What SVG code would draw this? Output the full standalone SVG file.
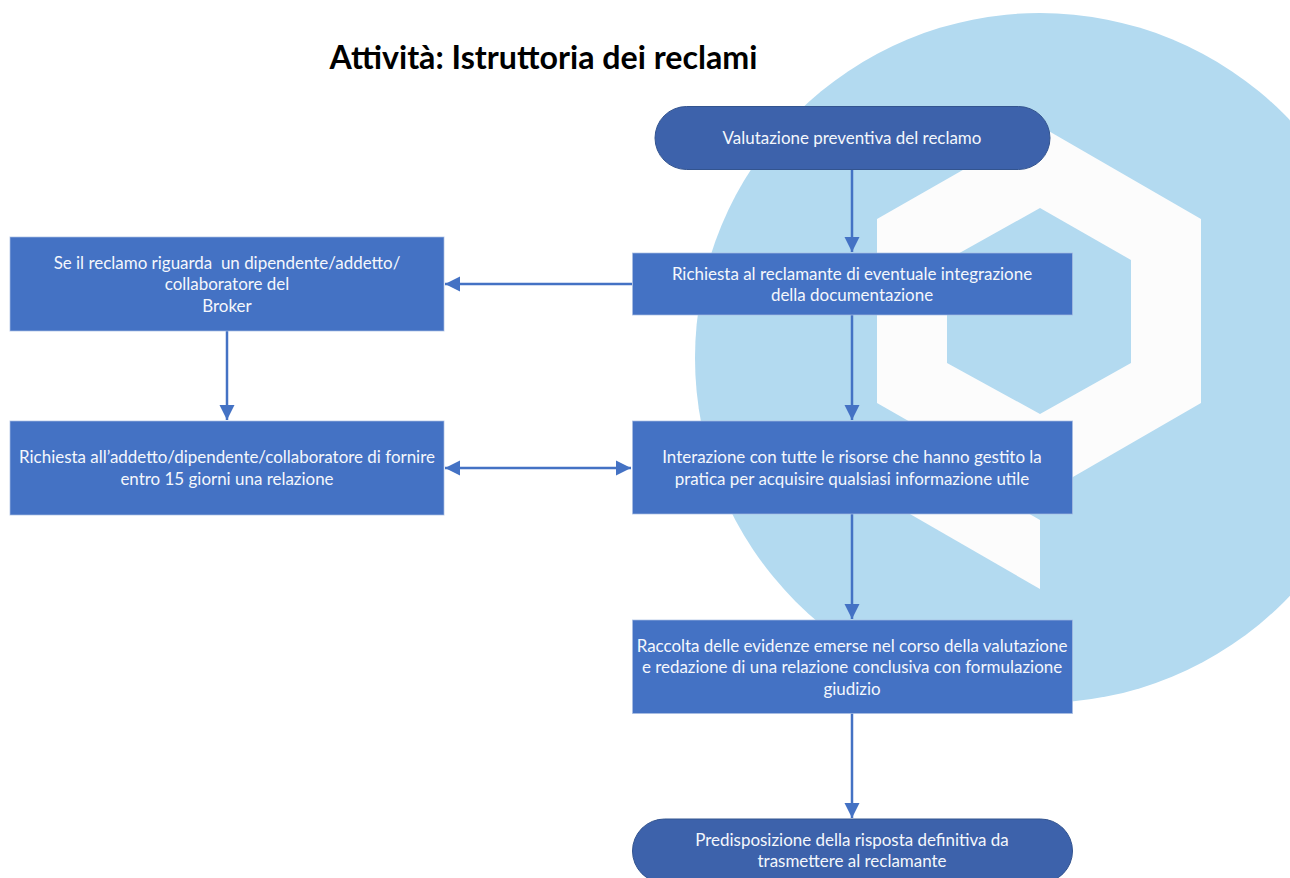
<svg xmlns="http://www.w3.org/2000/svg" width="1290" height="878" viewBox="0 0 1290 878">
<style>
.box{fill:#4472c4;stroke:#a9bde3;stroke-width:1;stroke-opacity:.7}
.pill{fill:#3d62ab;stroke:#33548f;stroke-width:1}
.t{font-family:"Lato","Carlito","Liberation Sans",sans-serif;font-size:16.95px;fill:#f4f7fc;text-anchor:middle;white-space:pre}
.title{font-family:"Lato","Liberation Sans",sans-serif;font-size:32.2px;font-weight:700;fill:#000;text-anchor:middle}
.c{fill:none;stroke:#4472c4;stroke-width:2.5}
.logo{fill:#fcfcfc}
</style>
<defs>
<marker id="a" markerUnits="userSpaceOnUse" markerWidth="16" markerHeight="16" refX="15" refY="8" orient="auto-start-reverse"><path d="M0 0.500L15 8L0 15.500Z" fill="#4472c4"/></marker>
</defs>
<rect width="1290" height="878" fill="#fff"/>
<g id="background">
<circle cx="1040" cy="358" r="345" fill="#b3daf0"/>
<polygon class="logo" fill-rule="evenodd" points="1040,126 1201,219 1201,403 1040,496 877,403 877,219 1040,126 1040,208 947,260 947,363 1040,414 1131,363 1131,260 1040,208"/>
<polygon class="logo" points="877,427 1040,520 1040,589 877,495"/>
</g>
<text class="title" x="543.500" y="69">Attività: Istruttoria dei reclami</text>
<g id="connectors">
<path class="c" d="M852 170V252" marker-end="url(#a)"/>
<path class="c" d="M852 315V420" marker-end="url(#a)"/>
<path class="c" d="M852 514V619" marker-end="url(#a)"/>
<path class="c" d="M852 713V818" marker-end="url(#a)"/>
<path class="c" d="M632 284H445" marker-end="url(#a)"/>
<path class="c" d="M227 331V420" marker-end="url(#a)"/>
<path class="c" d="M445 468H631" marker-start="url(#a)" marker-end="url(#a)"/>
</g>
<g id="n1"><rect class="pill" x="655" y="106.500" width="395" height="63" rx="31.500"/><text class="t" x="852" y="144">Valutazione preventiva del reclamo</text></g>
<g id="n2"><rect class="box" x="632.500" y="253" width="440" height="62"/><text class="t" x="852" y="280">Richiesta al reclamante di eventuale integrazione</text><text class="t" x="852" y="301">della documentazione</text></g>
<g id="n3"><rect class="box" x="10" y="237" width="434" height="94"/><text class="t" x="227" y="269">Se il reclamo riguarda  un dipendente/addetto/</text><text class="t" x="227" y="290">collaboratore del</text><text class="t" x="227" y="312">Broker</text></g>
<g id="n4"><rect class="box" x="10" y="421" width="434" height="94"/><text class="t" x="227" y="463">Richiesta all’addetto/dipendente/collaboratore di fornire</text><text class="t" x="227" y="485">entro 15 giorni una relazione</text></g>
<g id="n5"><rect class="box" x="632.500" y="421" width="440" height="93"/><text class="t" x="852" y="463">Interazione con tutte le risorse che hanno gestito la</text><text class="t" x="852" y="485">pratica per acquisire qualsiasi informazione utile</text></g>
<g id="n6"><rect class="box" x="632.500" y="620" width="440" height="93.500"/><text class="t" x="852" y="652">Raccolta delle evidenze emerse nel corso della valutazione</text><text class="t" x="852" y="673">e redazione di una relazione conclusiva con formulazione</text><text class="t" x="852" y="695">giudizio</text></g>
<g id="n7"><rect class="pill" x="632.500" y="819" width="440" height="64" rx="32"/><text class="t" x="852" y="846">Predisposizione della risposta definitiva da</text><text class="t" x="852" y="867">trasmettere al reclamante</text></g>
</svg>
